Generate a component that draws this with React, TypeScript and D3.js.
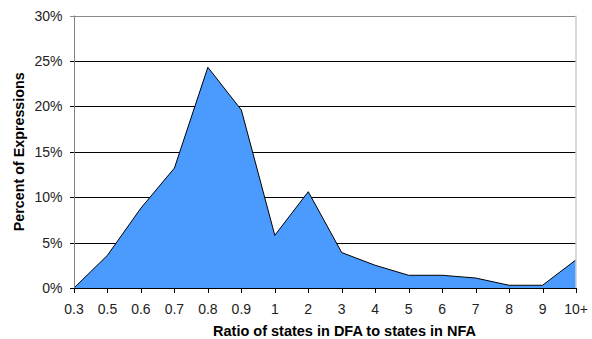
import React from "react";
import * as d3 from "d3";

const categories = ["0.3", "0.5", "0.6", "0.7", "0.8", "0.9", "1", "2", "3", "4", "5", "6", "7", "8", "9", "10+"];
const percentValues = [0, 3.6, 8.8, 13.2, 24.3, 19.6, 5.8, 10.6, 3.9, 2.5, 1.4, 1.4, 1.1, 0.3, 0.3, 3.1];
const yTicks = [0, 5, 10, 15, 20, 25, 30];

const W = 592, H = 339;
const M = { left: 74, right: 576, top: 15.5, bottom: 288 };

export default function App() {
  const x = d3.scalePoint<string>().domain(categories).range([M.left, M.right]);
  const y = d3.scaleLinear().domain([0, 30]).range([M.bottom, M.top]);
  const area = d3.area<number>()
    .x((_, i) => x(categories[i])!)
    .y0(y(0))
    .y1((d) => y(d));
  const line = d3.line<number>()
    .x((_, i) => x(categories[i])!)
    .y((d) => y(d));
  const font = "'Liberation Sans', Arial, sans-serif";
  return (
    <svg width={W} height={H} style={{ position: "absolute", left: 0, top: 0, background: "#fff" }}>
      {yTicks.map((t) => (
        <g key={t}>
          <line x1={M.left - 4} x2={M.right} y1={Math.round(y(t)) + 0.5} y2={Math.round(y(t)) + 0.5}
            stroke={t === 30 ? "#8a8a8a" : "#000"} strokeWidth={1} />
          <text x={62.5} y={y(t)} dy="0.36em" textAnchor="end" fontFamily={font} fontSize={14} fill="#222">{t}%</text>
        </g>
      ))}
      <path d={area(percentValues)!} fill="#4b9bff" />
      <path d={line(percentValues)!} fill="none" stroke="#000" strokeWidth={1} />
      <line x1={M.left + 0.5} x2={M.left + 0.5} y1={M.top} y2={M.bottom} stroke="#808080" strokeWidth={1} />
      <line x1={M.right} x2={M.right} y1={M.top} y2={M.bottom} stroke="#c4d0d2" strokeWidth={1.5} />
      <line x1={M.left} x2={M.right} y1={M.bottom + 0.5} y2={M.bottom + 0.5} stroke="#000" strokeWidth={1} />
      {categories.map((c) => (
        <g key={c}>
          <line x1={Math.round(x(c)!) + 0.5} x2={Math.round(x(c)!) + 0.5} y1={M.bottom} y2={M.bottom + 5} stroke="#000" />
          <text x={x(c)} y={314} textAnchor="middle" fontFamily={font} fontSize={14} fill="#222">{c}</text>
        </g>
      ))}
      <text x={344.5} y={335.5} textAnchor="middle" fontFamily={font} fontSize={14.5} fontWeight="bold" fill="#000">
        Ratio of states in DFA to states in NFA
      </text>
      <text transform={`translate(24,${(M.top + M.bottom) / 2}) rotate(-90)`} textAnchor="middle"
        fontFamily={font} fontSize={14.3} fontWeight="bold" fill="#000">
        Percent of Expressions
      </text>
    </svg>
  );
}
